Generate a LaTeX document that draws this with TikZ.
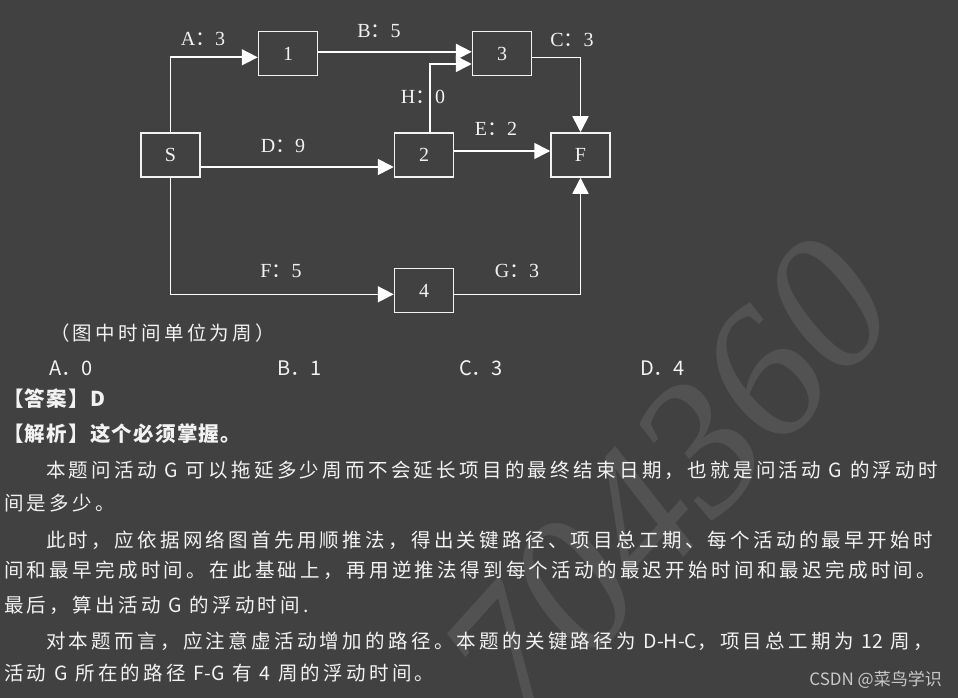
\documentclass[tikz,border=0pt]{standalone}
\usepackage{fontspec}
\setmainfont{Liberation Serif}
\newfontfamily\cjk{Noto Sans CJK SC}
\newfontfamily\cjkls[LetterSpace=17]{Noto Sans CJK SC}
\newfontfamily\cjkhd[LetterSpace=6]{Noto Sans CJK SC}
\newfontfamily\wmfont{Liberation Serif}
\usetikzlibrary{arrows.meta}
\definecolor{bg}{RGB}{65,65,65}
\definecolor{fg}{RGB}{242,242,242}
\definecolor{wm}{RGB}{82,82,82}
\definecolor{csdn}{RGB}{200,200,200}
\tikzset{
  box/.style={draw=fg, line width=1.5pt, minimum width=59pt, minimum height=44pt,
    inner sep=0pt, text=fg, font=\fontsize{20pt}{24pt}\selectfont},
  arr/.style={draw=white, line width=1.6pt, -{Triangle[length=16pt,width=16pt]}},
  lab/.style={text=fg, inner sep=0pt, font=\fontsize{20pt}{24pt}\selectfont},
  bodyline/.style={text=fg, inner sep=0pt, anchor=base west, font=\cjkls\fontsize{19.5pt}{24pt}\selectfont},
  optline/.style={text=fg, inner sep=0pt, anchor=base west, font=\cjk\fontsize{20pt}{24pt}\selectfont},
  headline/.style={text=fg, inner sep=0pt, anchor=base west, font=\cjkhd\bfseries\fontsize{20.5pt}{24pt}\selectfont}
}
\newcommand{\fc}{{\cjk ：}}
\newcommand{\tight}[1]{{\cjk #1}}
\begin{document}
\begin{tikzpicture}[x=1pt,y=-1pt]
\fill[bg] (0,0) rectangle (958,698);
\useasboundingbox (0,0) rectangle (958,698);
% watermark
\node[text=wm, rotate=48, inner sep=0pt, font=\wmfont\itshape\fontsize{190pt}{190pt}\selectfont] (wmk) at (668,482) {704360};
% boxes
\node[box] (S)  at (170.5,155)  {S\hspace{14pt}};
\node[box] (n1) at (288,53.5)   {1\hspace{14pt}};
\node[box] (n3) at (502,53.5)   {3\hspace{14pt}};
\node[box] (n2) at (424,155)    {2\hspace{14pt}};
\node[box] (F)  at (580.5,155)  {F\hspace{14pt}};
\node[box] (n4) at (424,290.5)  {4\hspace{14pt}};
% connectors
\draw[arr] (S.north) |- ([yshift=-3.8pt]n1.west);
\draw[arr] ([yshift=1.7pt]n1.east) -- ([yshift=1.7pt]n3.west);
\draw[arr] ([xshift=6pt]n2.north) |- ([yshift=-10.5pt]n3.west);
\draw[arr] ([yshift=-4pt]n3.east) -| (F.north);
\draw[arr] ([yshift=-12pt]S.east) -- ([yshift=-12pt]n2.west);
\draw[arr] ([yshift=4pt]n2.east) -- ([yshift=4pt]F.west);
\draw[arr] (S.south) |- ([yshift=-3.8pt]n4.west);
\draw[arr] ([yshift=-3.8pt]n4.east) -| (F.south);
% connector labels
\node[lab] (lA) at (203,39)  {A\fc3};
\node[lab] (lB) at (379,31)  {B\fc5};
\node[lab] (lH) at (423,97)  {H\fc0};
\node[lab] (lD) at (283,146) {D\fc9};
\node[lab] (lC) at (572,40)  {C\fc3};
\node[lab] (lE) at (496,129) {E\fc2};
\node[lab] (lF) at (281,271) {F\fc5};
\node[lab] (lG) at (517,271) {G\fc3};
% text
\node[bodyline] (note) at (50,340.5) {（图中时间单位为周）};
\node[optline] (oA) at (49,375)  {A．0};
\node[optline] (oB) at (277,375) {B．1};
\node[optline] (oC) at (459,375) {C．3};
\node[optline] (oD) at (640,375) {D．4};
\node[headline] (h1) at (3,406) {【答案】D};
\node[headline] (h2) at (3,441) {【解析】这个必须掌握。};
\node[bodyline] (t1) at (46,477.5) {本题问活动 G 可以拖延多少周而不会延长项目的最终结束日期，也就是问活动 G 的浮动时};
\node[bodyline] (t2) at (4,510.5) {间是多少。};
\node[bodyline] (t3) at (46,547.5) {此时，应依据网络图首先用顺推法，得出关键路径、项目总工期、每个活动的最早开始时};
\node[bodyline] (t4) at (4,577.5) {间和最早完成时间。在此基础上，再用逆推法得到每个活动的最迟开始时间和最迟完成时间。};
\node[bodyline] (t5) at (4,612.5) {最后，算出活动 G 的浮动时间.};
\node[bodyline] (t6) at (46,648.5) {对本题而言，应注意虚活动增加的路径。本题的关键路径为 \tight{D-H-C}，项目总工期为 \tight{12} 周，};
\node[bodyline] (t7) at (4,680.5) {活动 G 所在的路径 \tight{F-G} 有 4 周的浮动时间。};
\node[text=csdn, inner sep=0pt, anchor=base east, font=\cjk\fontsize{17pt}{20pt}\selectfont] (csdn) at (942,685) {CSDN @菜鸟学识};
\end{tikzpicture}
\end{document}
